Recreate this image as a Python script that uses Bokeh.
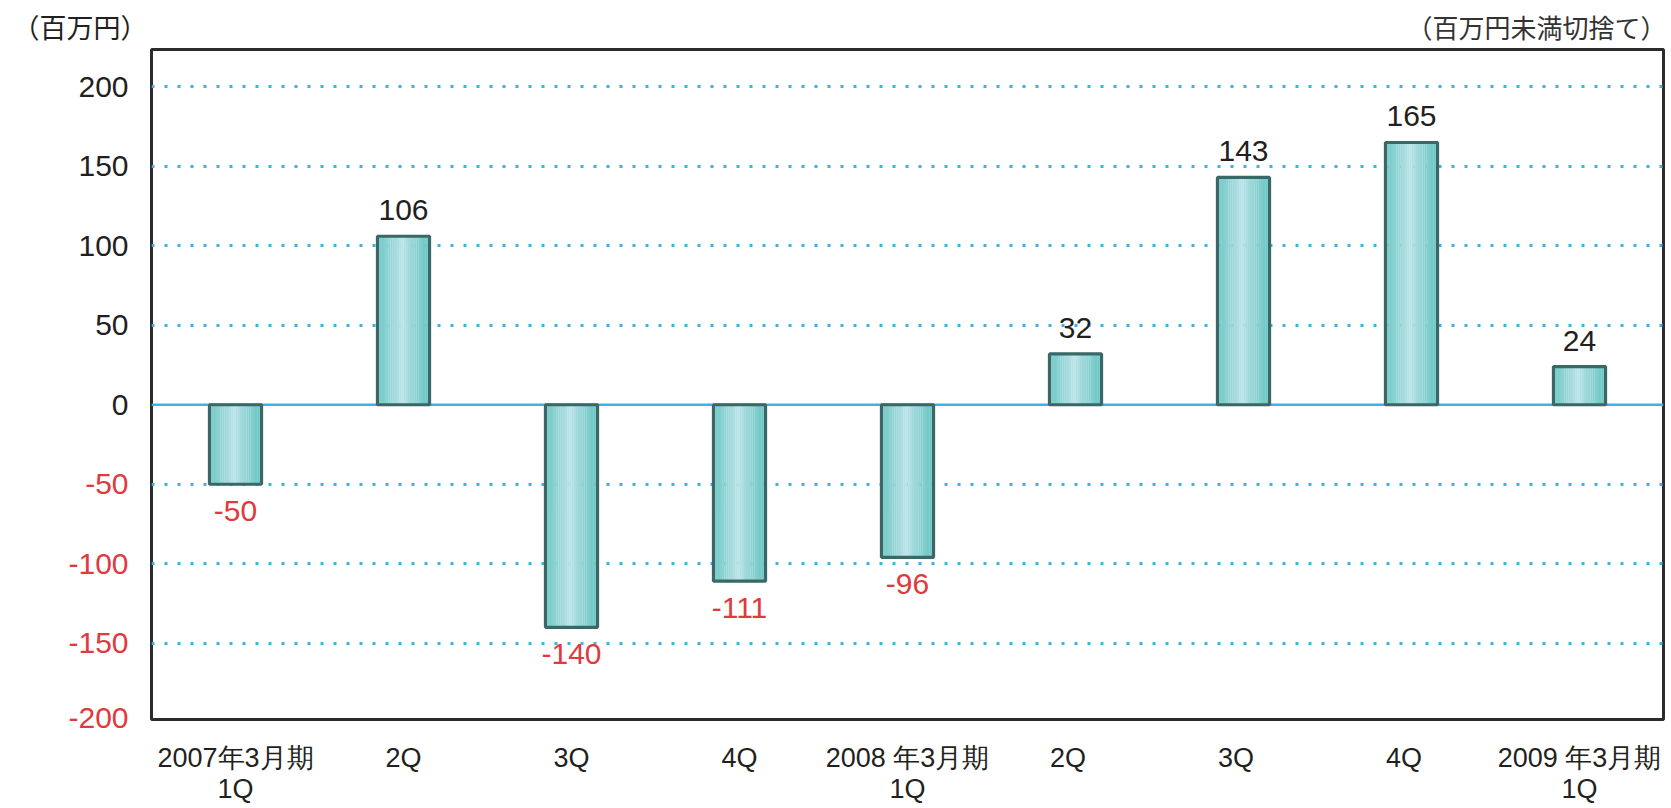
from bokeh.plotting import figure
from bokeh.layouts import row
from bokeh.models import FixedTicker, Span, ColumnDataSource, FactorRange, Range1d
from bokeh.transform import dodge
from bokeh.embed import file_html
from bokeh.resources import INLINE
from bokeh.core.properties import value

# ---- data ----
tick_labels = ["2007年3月期\n1Q", "2Q", "3Q", "4Q", "2008 年3月期\n1Q", " 2Q ", " 3Q ", " 4Q ", "2009 年3月期\n1Q"]
values = [-50, 106, -140, -111, -96, 32, 143, 165, 24]
y_ticks = [200, 150, 100, 50, 0, -50, -100, -150]
bottom_tick = [-200]
grid_ticks = [200, 150, 100, 50, -50, -100, -150]
unit_label = "（百万円）"
note_label = "（百万円未満切捨て）"

NUM_FONT = "Liberation Sans"
RED = "#e0393e"
BLUE = "#3cb2e6"
TXT = "#231f20"

H = 807
LW = 149                     # width of the tick-label strip
W = 1517                     # width of the main chart
ML, MR, MT, MB = 2, 3, 47, 88
Y0, Y1 = -198, 223.5

# ---------------- main chart ----------------
p = figure(width=W, height=H, x_range=FactorRange(factors=tick_labels, range_padding=0),
           y_range=Range1d(Y0, Y1), output_backend="svg", toolbar_location=None,
           y_axis_location=None,
           min_border_left=ML, min_border_right=MR, min_border_top=MT, min_border_bottom=MB)
p.outline_line_color = "#2b2b2b"
p.outline_line_width = 3
p.background_fill_color = "white"
p.border_fill_color = "white"

p.title.text = note_label
p.title.align = "right"
p.title.offset = -3
p.title.text_font = "Noto Sans CJK JP"
p.title.text_font_size = "26px"
p.title.text_font_style = "normal"
p.title.text_color = "#333333"
p.title.standoff = 9

p.xaxis.axis_line_color = None
p.xaxis.major_tick_line_color = None
p.xaxis.major_tick_out = 0
p.xaxis.minor_tick_line_color = None
p.xaxis.major_label_standoff = 23
p.xaxis.major_label_text_font = NUM_FONT
p.xaxis.major_label_text_font_size = "27px"
p.xaxis.major_label_text_color = TXT
p.xaxis.major_label_text_line_height = 1.05

p.xgrid.grid_line_color = None
p.ygrid.ticker = FixedTicker(ticks=grid_ticks)
p.ygrid.grid_line_color = BLUE
p.ygrid.grid_line_width = 3
p.ygrid.grid_line_dash = "3 10"

p.add_layout(Span(location=0, dimension="width", line_color=BLUE, line_width=2.5, level="underlay"))

# bars with horizontal gradient (strips)
src = ColumnDataSource(dict(k=tick_labels, v=values))
BW = 0.31
N = 24
edge = (110, 199, 197)
mid = (188, 228, 232)
for i in range(N):
    c = (i + 0.5) / N
    t = 1 - abs(c - 0.47) / 0.53
    t = max(0.0, min(1.0, t)) ** 1.3
    col = tuple(int(round(edge[j] + (mid[j] - edge[j]) * t)) for j in range(3))
    off = -BW / 2 + (i + 0.5) * BW / N
    p.vbar(x=dodge("k", off, range=p.x_range), top="v", bottom=0, width=BW / N * 1.08,
           source=src, fill_color="#%02x%02x%02x" % col, line_color=None)
p.vbar(x="k", top="v", bottom=0, width=BW, source=src, fill_alpha=0,
       line_color="#3a6866", line_width=3.2)

# value labels
pk = [k for k, v in zip(tick_labels, values) if v >= 0]
pv = [v for v in values if v >= 0]
nk = [k for k, v in zip(tick_labels, values) if v < 0]
nv = [v for v in values if v < 0]
p.text(x=pk, y=pv, text=[str(v) for v in pv], text_align="center", text_baseline="bottom",
       y_offset=-16, text_font=value(NUM_FONT), text_font_size="30px", text_color=TXT)
p.text(x=nk, y=nv, text=[str(v) for v in nv], text_align="center", text_baseline="top",
       y_offset=17, text_font=value(NUM_FONT), text_font_size="30px", text_color=RED)

# ---------------- tick-label strip (frame aligned with the main chart) ----------------
q = figure(width=LW, height=H, x_range=Range1d(-298, -149), y_range=p.y_range,
           output_backend="svg", toolbar_location=None, y_axis_location=None,
           min_border_left=0, min_border_right=0, min_border_top=MT, min_border_bottom=MB)
q.outline_line_color = None
q.grid.visible = False
q.background_fill_color = "white"
q.border_fill_color = "white"

q.title.text = unit_label
q.title.align = "left"
q.title.offset = 12
q.title.text_font = "Noto Sans CJK JP"
q.title.text_font_size = "27px"
q.title.text_font_style = "normal"
q.title.text_color = TXT
q.title.standoff = 8

# the lowest tick label (-200) sits below the frame: drawn by the strip's own axis
q.xaxis.ticker = FixedTicker(ticks=bottom_tick)
q.xaxis.major_label_overrides = {t: str(t) for t in bottom_tick}
q.xaxis.axis_line_color = None
q.xaxis.major_tick_line_color = None
q.xaxis.major_tick_out = 0
q.xaxis.minor_tick_line_color = None
q.xaxis.minor_tick_out = 0
q.xaxis.major_label_standoff = -12
q.xaxis.major_label_text_font = NUM_FONT
q.xaxis.major_label_text_font_size = "30px"
q.xaxis.major_label_text_color = RED

tick_colors = [RED if t < 0 else TXT for t in y_ticks]
q.text(x=[q.x_range.end] * len(y_ticks), y=y_ticks, text=[str(t) for t in y_ticks], x_offset=-21,
       text_align="right", text_baseline="middle", text_color=tick_colors,
       text_font=value(NUM_FONT), text_font_size="30px")

layout = row(q, p, spacing=0)
open("out.html", "w").write(file_html(layout, INLINE))
